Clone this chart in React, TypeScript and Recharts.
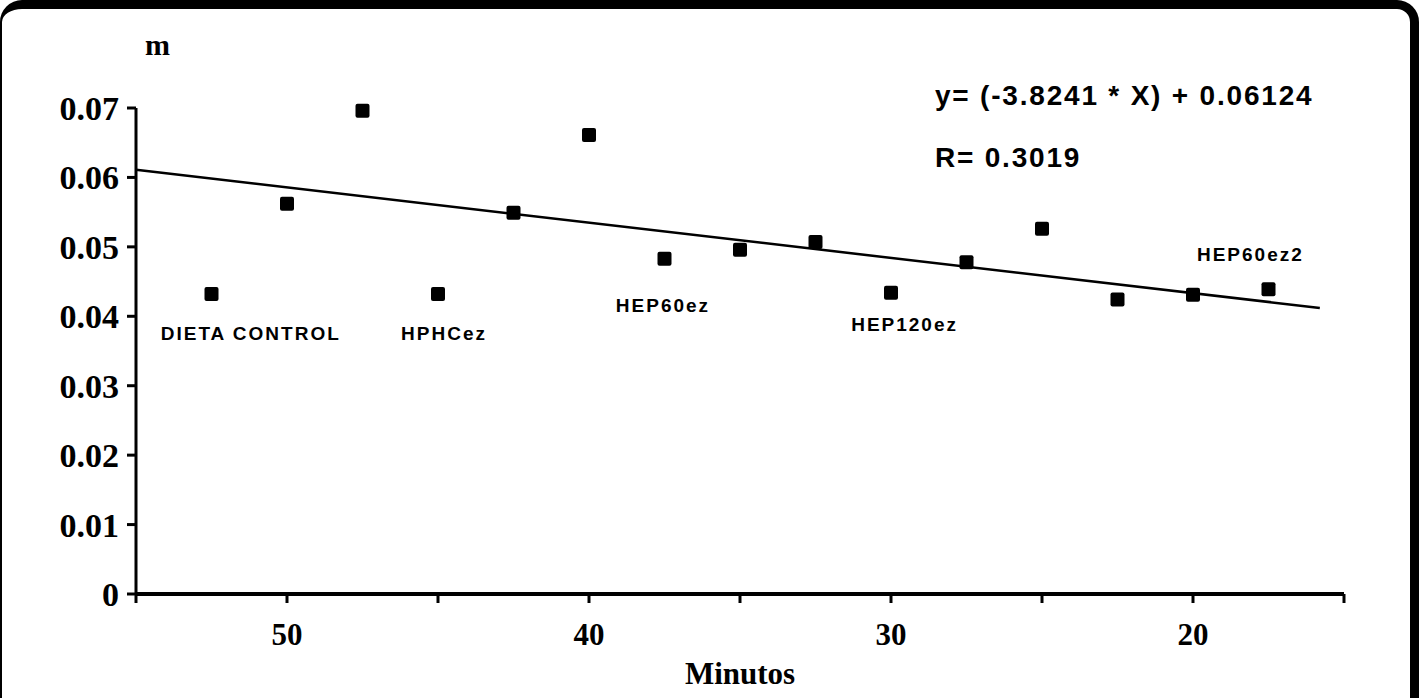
import React from "react";
import {
  ScatterChart,
  Scatter,
  XAxis,
  YAxis,
  ReferenceLine,
  ReferenceDot,
  Label,
} from "recharts";

// minutes / m values
const minutes = [52.5, 50, 47.5, 45, 42.5, 40, 37.5, 35, 32.5, 30, 27.5, 25, 22.5, 20, 17.5];
const mValues = [0.0432, 0.0562, 0.0696, 0.0432, 0.0549, 0.0661, 0.0483, 0.0496, 0.0507, 0.0434, 0.0478, 0.0526, 0.0424, 0.0431, 0.0439];

// fitted line end points
const trendX = [55, 15.8];
const trendY = [0.0611, 0.0412];

const xTicks = [15, 20, 25, 30, 35, 40, 45, 50, 55];
const xLabelled = [20, 30, 40, 50];
const yTicks = [0, 0.01, 0.02, 0.03, 0.04, 0.05, 0.06, 0.07];

const groupNames = ["DIETA CONTROL", "HPHCez", "HEP60ez", "HEP120ez", "HEP60ez2"];
const groupX = [51.2, 44.8, 37.55, 29.55, 18.1];
const groupY = [0.0376, 0.0375, 0.0416, 0.0389, 0.049];

const points = minutes.map((x, i) => ({ x, y: mValues[i] }));

const serif = "'Liberation Serif', 'DejaVu Serif', serif";
const sans = "'Liberation Sans', Arial, sans-serif";

const SquareDot = (props: any) => {
  const { cx, cy } = props;
  if (cx == null || cy == null) return null;
  return <rect x={cx - 7} y={cy - 7} width={14} height={14} rx={2} fill="#000" />;
};

export default function App() {
  return (
    <div
      style={{
        position: "absolute",
        left: 0,
        top: 0,
        width: 1419,
        height: 698,
        background: "#fff",
        overflow: "hidden",
      }}
    >
      <div
        style={{
          position: "absolute",
          left: 0,
          top: 0,
          width: 1419,
          height: 720,
          boxSizing: "border-box",
          borderTop: "9px solid #000",
          borderRight: "9px solid #000",
          borderLeft: "2px solid #000",
          borderBottom: "2px solid #000",
          borderRadius: 22,
        }}
      />
      <ScatterChart
        width={1419}
        height={698}
        margin={{ top: 108, right: 75, bottom: 40, left: 0 }}
      >
        <XAxis
          type="number"
          dataKey="x"
          domain={[15, 55]}
          reversed
          ticks={xTicks}
          interval={0}
          tickFormatter={(v: number) => (xLabelled.includes(v) ? String(v) : "")}
          axisLine={{ stroke: "#000", strokeWidth: 4 }}
          tickLine={{ stroke: "#000", strokeWidth: 3 }}
          tickSize={9}
          tickMargin={20}
          height={64}
          tick={{ fill: "#000", fontFamily: serif, fontWeight: 700, fontSize: 31 }}
        >
          <Label
            value="Minutos"
            position="insideBottom"
            offset={-26}
            style={{ fill: "#000", fontFamily: serif, fontWeight: 700, fontSize: 31 }}
          />
        </XAxis>
        <YAxis
          type="number"
          dataKey="y"
          domain={[0, 0.07]}
          ticks={yTicks}
          interval={0}
          width={136}
          tickFormatter={(v: number) => (v === 0 ? "0" : v.toFixed(2))}
          axisLine={{ stroke: "#000", strokeWidth: 3 }}
          tickLine={{ stroke: "#000", strokeWidth: 3 }}
          tickSize={9}
          tickMargin={8}
          tick={{ fill: "#000", fontFamily: serif, fontWeight: 700, fontSize: 34 }}
        />
        <ReferenceLine
          segment={[
            { x: trendX[0], y: trendY[0] },
            { x: trendX[1], y: trendY[1] },
          ]}
          stroke="#000"
          strokeWidth={2.5}
          ifOverflow="visible"
        />
        <Scatter data={points} shape={SquareDot} isAnimationActive={false} />
        {groupNames.map((name, i) => (
          <ReferenceDot
            key={name}
            x={groupX[i]}
            y={groupY[i]}
            r={0}
            stroke="none"
            fill="none"
            ifOverflow="visible"
          >
            <Label
              value={name}
              position="center"
              style={{ fill: "#000", fontFamily: sans, fontWeight: 700, fontSize: 19, letterSpacing: 2 }}
            />
          </ReferenceDot>
        ))}
      </ScatterChart>
      <div
        style={{
          position: "absolute",
          left: 145,
          top: 28,
          fontFamily: serif,
          fontWeight: 700,
          fontSize: 30,
          color: "#000",
        }}
      >
        m
      </div>
      <div
        style={{
          position: "absolute",
          left: 935,
          top: 80,
          fontFamily: sans,
          fontWeight: 700,
          fontSize: 28,
          letterSpacing: 1.8,
          color: "#000",
          whiteSpace: "nowrap",
        }}
      >
        y= (-3.8241 * X) + 0.06124
      </div>
      <div
        style={{
          position: "absolute",
          left: 935,
          top: 142,
          fontFamily: sans,
          fontWeight: 700,
          fontSize: 28,
          letterSpacing: 1.8,
          color: "#000",
          whiteSpace: "nowrap",
        }}
      >
        R= 0.3019
      </div>
    </div>
  );
}
